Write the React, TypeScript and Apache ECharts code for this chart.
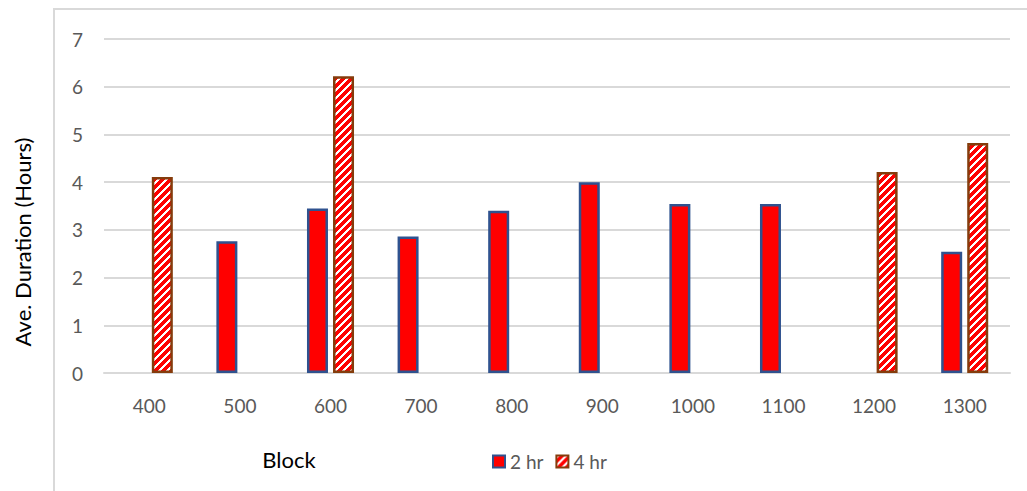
import React, { useEffect, useRef } from "react";
import * as echarts from "echarts";

const blocks = ["400", "500", "600", "700", "800", "900", "1000", "1100", "1200", "1300"];
const twoHour: (number | null)[] = [null, 2.76, 3.45, 2.86, 3.4, 4.0, 3.54, 3.54, null, 2.54];
const fourHour: (number | null)[] = [4.11, null, 6.22, null, null, null, null, null, 4.21, 4.82];
const yTicks = { min: 0, max: 7, interval: 1 };

const FONT = "Lato, 'Noto Sans', sans-serif";

// Red / white upward-diagonal hatch tile
function makeHatch(): HTMLCanvasElement {
  const size = 8;
  const c = document.createElement("canvas");
  c.width = size;
  c.height = size;
  const ctx = c.getContext("2d")!;
  for (let x = 0; x < size; x++) {
    for (let y = 0; y < size; y++) {
      ctx.fillStyle = (x + y) % size < 3 ? "#ffffff" : "#ff0000";
      ctx.fillRect(x, y, 1, 1);
    }
  }
  return c;
}

export default function App() {
  const ref = useRef<HTMLDivElement>(null);

  useEffect(() => {
    if (!ref.current) return;
    const chart = echarts.init(ref.current, undefined, { renderer: "svg" });
    const hatch = { image: makeHatch(), repeat: "repeat" as const };

    chart.setOption({
      animation: false,
      backgroundColor: "#ffffff",
      grid: { left: 104, right: 17, top: 39, bottom: 118 },
      legend: {
        left: 487,
        top: 447,
        icon: "rect",
        itemWidth: 12,
        itemHeight: 12,
        itemGap: 12,
        itemStyle: { borderWidth: 2 },
        textStyle: { fontFamily: FONT, fontSize: 19, color: "#595959" },
        data: ["2 hr", "4 hr"],
      },
      xAxis: {
        type: "category",
        data: blocks,
        axisLine: { show: true, lineStyle: { color: "#d9d9d9", width: 2 } },
        axisTick: { show: false },
        axisLabel: { fontFamily: FONT, fontSize: 19, color: "#595959", margin: 23 },
      },
      yAxis: {
        type: "value",
        min: yTicks.min,
        max: yTicks.max,
        interval: yTicks.interval,
        axisLine: { show: false },
        axisTick: { show: false },
        axisLabel: { fontFamily: FONT, fontSize: 19, color: "#595959", margin: 21 },
        splitLine: { lineStyle: { color: "#d9d9d9", width: 2 } },
      },
      series: [
        {
          name: "2 hr",
          type: "bar",
          data: twoHour,
          barWidth: 21,
          barGap: "24%",
          itemStyle: { color: "#ff0000", borderColor: "#2f528f", borderWidth: 2.5 },
        },
        {
          name: "4 hr",
          type: "bar",
          data: fourHour,
          barWidth: 21,
          barGap: "24%",
          itemStyle: { color: hatch, borderColor: "#843c0c", borderWidth: 2.5 },
        },
      ],
      graphic: [
        // chart-area frame (top and left edges visible)
        {
          type: "polyline",
          silent: true,
          shape: { points: [[54, 491], [54, 9], [1027, 9]] },
          style: { stroke: "#d9d9d9", lineWidth: 2, fill: null },
        },
        {
          type: "text",
          x: 22,
          y: 242,
          rotation: Math.PI / 2,
          style: {
            text: "Ave. Duration (Hours)",
            fontFamily: FONT,
            fontSize: 22,
            fill: "#000000",
            align: "center",
            verticalAlign: "middle",
          },
        },
        {
          type: "text",
          x: 289,
          y: 459,
          style: {
            text: "Block",
            fontFamily: FONT,
            fontSize: 22,
            fill: "#000000",
            align: "center",
            verticalAlign: "middle",
          },
        },
      ],
    });

    return () => chart.dispose();
  }, []);

  return (
    <div
      ref={ref}
      style={{ position: "absolute", left: 0, top: 0, width: 1027, height: 491 }}
    />
  );
}
